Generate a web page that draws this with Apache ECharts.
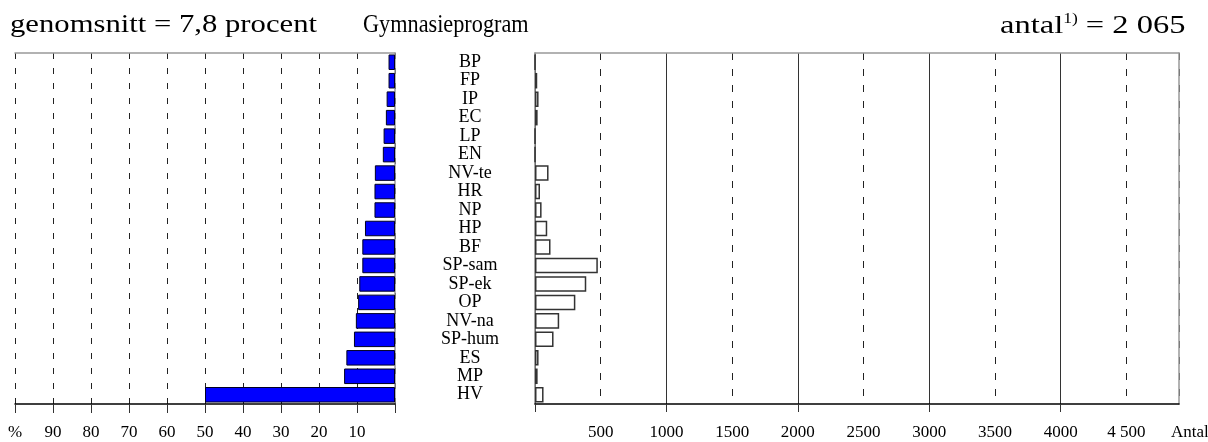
<!DOCTYPE html>
<html>
<head>
<meta charset="utf-8">
<script src="https://cdn.jsdelivr.net/npm/echarts@6/dist/echarts.min.js"></script>
<style>
  html, body { margin: 0; padding: 0; background: #fff; }
  #main { width: 1208px; height: 442px; }
</style>
</head>
<body>
<div id="main"></div>
<script>
// program, top to bottom
var categories = ['BP', 'FP', 'IP', 'EC', 'LP', 'EN', 'NV-te', 'HR', 'NP', 'HP', 'BF',
    'SP-sam', 'SP-ek', 'OP', 'NV-na', 'SP-hum', 'ES', 'MP', 'HV'];
// andel i procent (vänster)
var percent = [1.7, 1.7, 2.2, 2.4, 3.0, 3.2, 5.3, 5.4, 5.4, 7.9, 8.6,
    8.6, 9.4, 9.7, 10.3, 10.8, 12.8, 13.4, 50.0];
// antal (höger)
var antal = [0, 17, 27, 20, 0, 0, 103, 38, 50, 93, 118,
    478, 390, 307, 184, 141, 27, 20, 65];
var pctTicks = [100, 90, 80, 70, 60, 50, 40, 30, 20, 10];
var antalTicks = [500, 1000, 1500, 2000, 2500, 3000, 3500, 4000, 4500];

var serif = 'Liberation Serif';
var myChart = echarts.init(document.getElementById('main'));

var option = {
    animation: false,
    backgroundColor: '#fff',
    textStyle: { fontFamily: serif },
    grid: [
        { left: 15, right: 813, top: 53, bottom: 38 },
        { left: 535, right: 29, top: 53, bottom: 38 }
    ],
    xAxis: [
        {
            gridIndex: 0, type: 'value', inverse: true, min: 0, max: 100, interval: 10,
            position: 'bottom',
            axisLine: { show: true, onZero: false, lineStyle: { color: '#000', width: 1.5 } },
            axisTick: { show: true, length: 9, lineStyle: { color: '#333' } },
            axisLabel: {
                margin: 20, fontSize: 17, color: '#000', fontFamily: serif,
                formatter: function(v) {
                    if (v === 100) return '%';
                    return pctTicks.indexOf(v) >= 0 ? String(v) : '';
                }
            },
            splitLine: { show: true, lineStyle: { color: '#222', type: [6, 9] } }
        },
        {
            gridIndex: 0, type: 'value', inverse: true, min: 0, max: 100, position: 'top',
            axisLine: { show: true, onZero: false, lineStyle: { color: '#999', width: 1.5 } },
            axisTick: { show: false }, axisLabel: { show: false }, splitLine: { show: false }
        },
        {
            gridIndex: 1, type: 'value', min: 0, max: 4900, interval: 500, position: 'bottom',
            axisLine: { show: true, onZero: false, lineStyle: { color: '#000', width: 1.5 } },
            axisTick: { show: false },
            axisLabel: {
                margin: 20, fontSize: 17, color: '#000', fontFamily: serif, showMaxLabel: false,
                formatter: function(v) {
                    if (antalTicks.indexOf(v) < 0) return '';
                    return v === 4500 ? '4 500' : String(v);
                }
            },
            splitLine: { show: true, lineStyle: { color: '#222', type: [7, 9] } }
        },
        {
            gridIndex: 1, type: 'value', min: 0, max: 4900, interval: 1000, position: 'bottom',
            axisLine: { show: false },
            axisTick: { show: true, length: 8, lineStyle: { color: '#333' },
                customValues: [0, 1000, 2000, 3000, 4000] },
            axisLabel: { show: false },
            splitLine: { show: true, lineStyle: { color: '#333', width: 1, type: 'solid' } }
        },
        {
            gridIndex: 1, type: 'value', min: 0, max: 4900, position: 'top',
            axisLine: { show: true, onZero: false, lineStyle: { color: '#999', width: 1.5 } },
            axisTick: { show: false }, axisLabel: { show: false }, splitLine: { show: false }
        }
    ],
    yAxis: [
        {
            gridIndex: 0, type: 'category', inverse: true, data: categories, position: 'right',
            axisLine: { onZero: false, lineStyle: { color: '#999', width: 1.5 } },
            axisTick: { show: false }, axisLabel: { show: false }
        },
        {
            gridIndex: 1, type: 'category', inverse: true, data: categories, position: 'left',
            axisLine: { onZero: false, lineStyle: { color: '#888', width: 1.5 } },
            axisTick: { show: false },
            axisLabel: { margin: 65, align: 'center', fontSize: 18, color: '#000', fontFamily: serif, interval: 0 }
        },
        {
            gridIndex: 1, type: 'category', inverse: true, data: categories, position: 'right',
            axisLine: { onZero: false, lineStyle: { color: '#999', width: 1.5 } },
            axisTick: { show: false }, axisLabel: { show: false }
        }
    ],
    series: [
        {
            name: 'procent', type: 'bar', xAxisIndex: 0, yAxisIndex: 0, data: percent,
            barCategoryGap: '16%',
            itemStyle: { color: '#0000ff', borderColor: '#000022', borderWidth: 1 }
        },
        {
            name: 'antal', type: 'bar', xAxisIndex: 3, yAxisIndex: 1, data: antal,
            barCategoryGap: '16%',
            itemStyle: { color: '#fff', borderColor: '#333', borderWidth: 1.5 }
        }
    ],
    graphic: [
        {
            type: 'text', x: 10, y: 12, scaleX: 1.18, originX: 0, originY: 0,
            style: { text: 'genomsnitt = 7,8 procent', fontSize: 26, fontFamily: serif, fill: '#000' }
        },
        {
            type: 'text', x: 363, y: 13, scaleX: 0.89, originX: 0, originY: 0,
            style: { text: 'Gymnasieprogram', fontSize: 25, fontFamily: serif, fill: '#000' }
        },
        {
            type: 'text', x: 1000, y: 12, scaleX: 1.25, originX: 0, originY: 0,
            style: {
                text: '{a|antal}{s|1)}{a| = 2 065}',
                fill: '#000',
                rich: {
                    a: { fontSize: 26, fontFamily: serif, fill: '#000', lineHeight: 29 },
                    s: { fontSize: 14, fontFamily: serif, fill: '#000', verticalAlign: 'top', lineHeight: 29 }
                }
            }
        },
        {
            type: 'text', x: 1171, y: 424,
            style: { text: 'Antal', fontSize: 17, fontFamily: serif, fill: '#000' }
        }
    ]
};

myChart.setOption(option);
</script>
</body>
</html>
